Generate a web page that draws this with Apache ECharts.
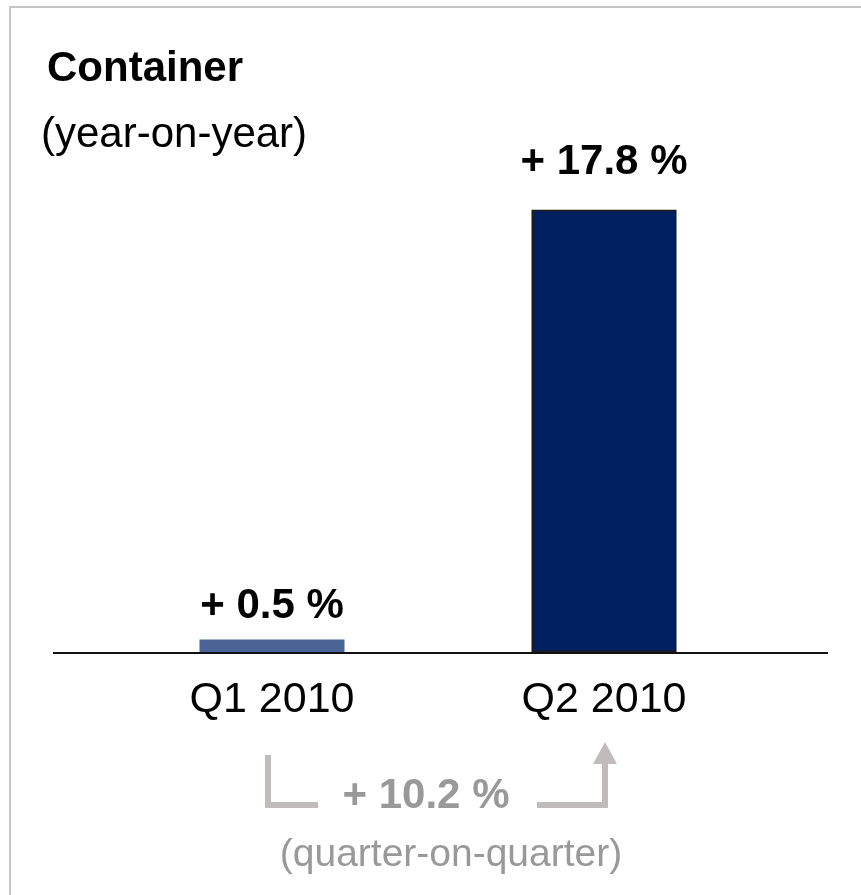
<!DOCTYPE html>
<html>
<head>
<meta charset="utf-8">
<script src="https://cdn.jsdelivr.net/npm/echarts@6/dist/echarts.min.js"></script>
<style>html,body{margin:0;padding:0;background:#fff}#c{width:861px;height:895px}</style>
</head>
<body>
<div id="c"></div>
<script>
var categories = ['Q1 2010', 'Q2 2010'];
var yoyValues = [0.5, 17.8];
var valueLabels = ['+ 0.5 %', '+ 17.8 %'];
var qoqLabel = '+ 10.2 %';
var titleText = 'Container';
var subtitleText = '(year-on-year)';
var qoqSubtitle = '(quarter-on-quarter)';

var FONT = 'Liberation Sans, Arial, sans-serif';
var barColors = ['#4a6496', '#002060'];
var labelDist = [12, 26];

var chart = echarts.init(document.getElementById('c'), null, {renderer: 'canvas'});
var option = {
  animation: false,
  backgroundColor: '#fff',
  title: [
    {text: titleText, left: 42, top: 43, textStyle: {fontFamily: FONT, fontSize: 42, fontWeight: 'bold', color: '#000'}},
    {text: subtitleText, left: 36, top: 109, textStyle: {fontFamily: FONT, fontSize: 42, fontWeight: 'normal', color: '#000'}},
    {text: qoqSubtitle, left: 446, textAlign: 'center', top: 831, textStyle: {fontFamily: FONT, fontSize: 39, fontWeight: 'normal', color: '#999'}}
  ],
  grid: {left: 106, right: 91, top: 155, bottom: 243, containLabel: false},
  xAxis: {
    type: 'category',
    data: categories,
    axisLine: {show: false},
    axisTick: {show: false},
    axisLabel: {fontFamily: FONT, fontSize: 43, color: '#000', margin: 27}
  },
  yAxis: {type: 'value', min: 0, max: 20, show: false, splitLine: {show: false}},
  series: [{
    type: 'bar',
    barWidth: 145,
    data: yoyValues.map(function (v, i) {
      return {
        value: v,
        itemStyle: i === 1 ? {color: barColors[i], borderColor: '#1a1a1a', borderWidth: 1.5} : {color: barColors[i]},
        label: {show: true, position: 'top', distance: labelDist[i], formatter: valueLabels[i],
                fontFamily: FONT, fontSize: 42, fontWeight: 'bold', color: '#000'}
      };
    })
  }]
};
chart.setOption(option);

var y0 = chart.convertToPixel({yAxisIndex: 0}, 0);
var x1 = chart.convertToPixel({xAxisIndex: 0}, categories[0]);
var x2 = chart.convertToPixel({xAxisIndex: 0}, categories[1]);
var gray = '#c0bcbc';
var ay = y0 + 153;
chart.setOption({
  graphic: [
    {type: 'rect', shape: {x: 10, y: 7, width: 900, height: 950}, style: {fill: 'none', stroke: '#c8c4c4', lineWidth: 2}, silent: true},
    {type: 'line', shape: {x1: 53, y1: y0 + 1, x2: 828, y2: y0 + 1}, style: {stroke: '#111', lineWidth: 2}, z: 10},
    {type: 'polyline', shape: {points: [[x1 - 4, ay - 50], [x1 - 4, ay], [x1 + 46, ay]]}, style: {stroke: gray, lineWidth: 6, fill: 'none', lineJoin: 'miter'}},
    {type: 'polyline', shape: {points: [[x2 - 67, ay], [x2 + 1, ay], [x2 + 1, ay - 42]]}, style: {stroke: gray, lineWidth: 6, fill: 'none', lineJoin: 'miter'}},
    {type: 'polygon', shape: {points: [[x2 - 11, ay - 41], [x2 + 13, ay - 41], [x2 + 1, ay - 63]]}, style: {fill: gray}},
    {type: 'text', x: (x1 + x2) / 2 - 12, y: ay + 12, style: {text: qoqLabel, font: 'bold 42px ' + FONT, fill: '#999', textAlign: 'center', textVerticalAlign: 'bottom'}}
  ]
});
</script>
</body>
</html>
